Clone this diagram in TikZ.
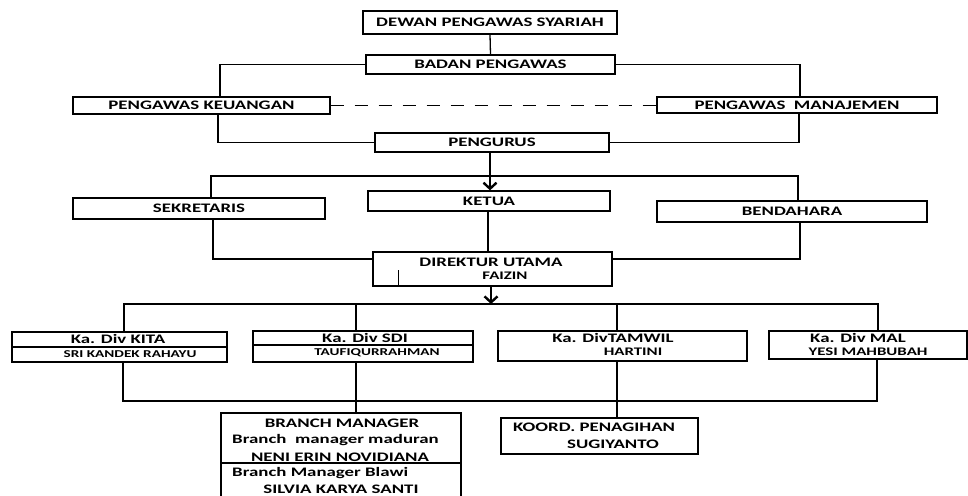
\documentclass[tikz,border=0pt]{standalone}
\usepackage{fontspec}
\newfontfamily\orgfont{Carlito}[FakeStretch=1.45]
\usetikzlibrary{arrows.meta,calc}
\newcommand\orgB{\orgfont\bfseries\fontsize{13}{15}\selectfont}
\newcommand\orgN{\orgfont\bfseries\fontsize{11.6}{13}\selectfont}
\newcommand\orgS{\orgfont\bfseries\fontsize{10.5}{12}\selectfont}
\begin{document}
\begin{tikzpicture}[x=1pt,y=-1pt,
  box/.style={draw,line width=1.3pt,inner sep=0pt,font=\orgB},
  txt/.style={inner sep=0pt,font=\orgB},
  ln/.style={line width=1.3pt},
  thk/.style={line width=2.6pt},
  dsh/.style={line width=1.2pt,dash pattern=on 13pt off 11pt},
  arr/.style={line width=2.4pt,-{Straight Barb[length=6pt,width=13pt]}}]
\clip (0,0) rectangle (968,495);
\fill[white] (0,0) rectangle (968,495);
% boxes
\node[box,minimum width=254pt,minimum height=23pt] (dps) at (490,22.5) {DEWAN PENGAWAS SYARIAH};
\node[box,minimum width=249pt,minimum height=19pt] (bp) at (490.5,64.5) {BADAN PENGAWAS};
\node[box,minimum width=257pt,minimum height=17pt] (pk) at (201.5,105.5) {PENGAWAS KEUANGAN};
\node[box,minimum width=280pt,minimum height=16pt] (pm) at (797,105) {PENGAWAS\ \ MANAJEMEN};
\node[box,minimum width=234pt,minimum height=19pt] (pg) at (492,142.5) {PENGURUS};
\node[box,minimum width=242pt,minimum height=20pt] (ke) at (489,201) {KETUA};
\node[box,minimum width=252pt,minimum height=21pt] (sk) at (199,208.5) {SEKRETARIS};
\node[box,minimum width=270pt,minimum height=21pt] (bd) at (792,211.5) {BENDAHARA};
\node[box,minimum width=239pt,minimum height=34pt] (du) at (492.5,269) {};
\node[txt] (dut) at (491,262) {DIREKTUR UTAMA};
\node[txt,font=\orgN] (dun) at (505,276) {FAIZIN};
\node[box,minimum width=215pt,minimum height=30pt] (kita) at (119.5,347) {};
\node[txt] (kitat) at (118,339) {Ka. Div KITA};
\node[txt,font=\orgS] (kitan) at (130,354) {SRI KANDEK RAHAYU};
\node[box,minimum width=220pt,minimum height=31pt] (sdi) at (363,346.5) {};
\node[txt] (sdit) at (365,338) {Ka. Div SDI};
\node[txt,font=\orgS] (sdin) at (377,353) {TAUFIQURRAHMAN};
\node[box,minimum width=249pt,minimum height=30pt] (tw) at (622.5,346) {};
\node[txt] (twt) at (613,338) {Ka. DivTAMWIL};
\node[txt,font=\orgN] (twn) at (633,352) {HARTINI};
\node[box,minimum width=198pt,minimum height=28pt] (mal) at (868,345) {};
\node[txt] (malt) at (858,338) {Ka. Div MAL};
\node[txt,font=\orgN] (maln) at (868,352) {YESI MAHBUBAH};
\node[box,minimum width=240pt,minimum height=97pt] (bm) at (341,461.5) {};
\node[txt] (bmt) at (342,423) {BRANCH MANAGER};
\node[txt,anchor=west] (bm1) at (232,440) {Branch\ \ manager maduran};
\node[txt] (bm2) at (340,457) {NENI ERIN NOVIDIANA};
\node[txt,anchor=west] (bm3) at (232,473) {Branch Manager Blawi};
\node[txt] (bm4) at (341,489) {SILVIA KARYA SANTI};
\node[box,minimum width=197pt,minimum height=36pt] (ko) at (599.5,436) {};
\node[txt,anchor=west] (kot) at (513,427) {KOORD. PENAGIHAN};
\node[txt] (kon) at (613,444) {SUGIYANTO};
% thick sides
\draw[thk] ([xshift=0.8pt]pk.north west) -- ([xshift=0.8pt]pk.south west);
\draw[thk] ([xshift=-0.8pt]pm.north east) -- ([xshift=-0.8pt]pm.south east);
\draw[thk] ([xshift=0.8pt]kita.north west) -- ([xshift=0.8pt]kita.south west);
\draw[thk] ([xshift=-0.8pt]tw.north east) -- ([xshift=-0.8pt]tw.south east);
\draw[thk] ([xshift=0.8pt]bm.north west) -- ([xshift=0.8pt]bm.south west);
% dividers
\draw[ln] (kita.west) -- (kita.east);
\draw[ln] ([yshift=1.5pt]sdi.west) -- ([yshift=1.5pt]sdi.east);
\draw[ln] ([yshift=-1.5pt]bm.west) -- ([yshift=-1.5pt]bm.east);
\draw[ln] ([xshift=26pt]du.south west) -- ++(0,-17);
% connectors
\draw[ln] (dps.south) -- (bp.north);
\draw[ln] (bp.west) -| ([xshift=18.5pt]pk.north);
\draw[ln] (bp.east) -| ([xshift=3pt]pm.north);
\draw[dsh] (pk.east) -- (pk.east -| pm.west);
\draw[ln] ([xshift=16.5pt]pk.south) |- (pg.west);
\draw[ln] ([xshift=2pt]pm.south) |- (pg.east);
\coordinate (h1) at (211,176);
\coordinate (h2) at (798,176);
\draw[ln] (h1 |- sk.north) -- (h1) -- (h2) -- (h2 |- bd.north);
\draw[arr] ([xshift=-2pt]pg.south) -- ([xshift=-2pt]pg.south |- ke.north);
\draw[ln] ([xshift=-1pt]ke.south) -- ([xshift=-1pt]ke.south |- du.north);
\draw[ln] ([xshift=14pt]sk.south) |- ([yshift=10pt]du.west);
\draw[ln] ([xshift=8pt]bd.south) |- ([yshift=10pt]du.east);
\coordinate (h3) at (124,304);
\coordinate (h4) at (878,304);
\draw[ln] (h3 |- kita.north) -- (h3) -- (h4) -- (h4 |- mal.north);
\draw[ln] ([xshift=-7pt]sdi.north) -- ([xshift=-7pt]sdi.north |- h3);
\draw[ln] ([xshift=-5.5pt]tw.north) -- ([xshift=-5.5pt]tw.north |- h3);
\draw[arr] ([xshift=-1.5pt]du.south) -- ([xshift=-1.5pt]du.south |- h3);
\coordinate (h5) at (123,401);
\coordinate (h6) at (877,401);
\draw[ln] (h5 |- kita.south) -- (h5) -- (h6) -- (h6 |- mal.south);
\draw[ln] ([xshift=-7pt]sdi.south) -- ([xshift=-7pt]sdi.south |- bm.north);
\draw[ln] ([xshift=-5.5pt]tw.south) -- ([xshift=-5.5pt]tw.south |- ko.north);
\end{tikzpicture}
\end{document}
